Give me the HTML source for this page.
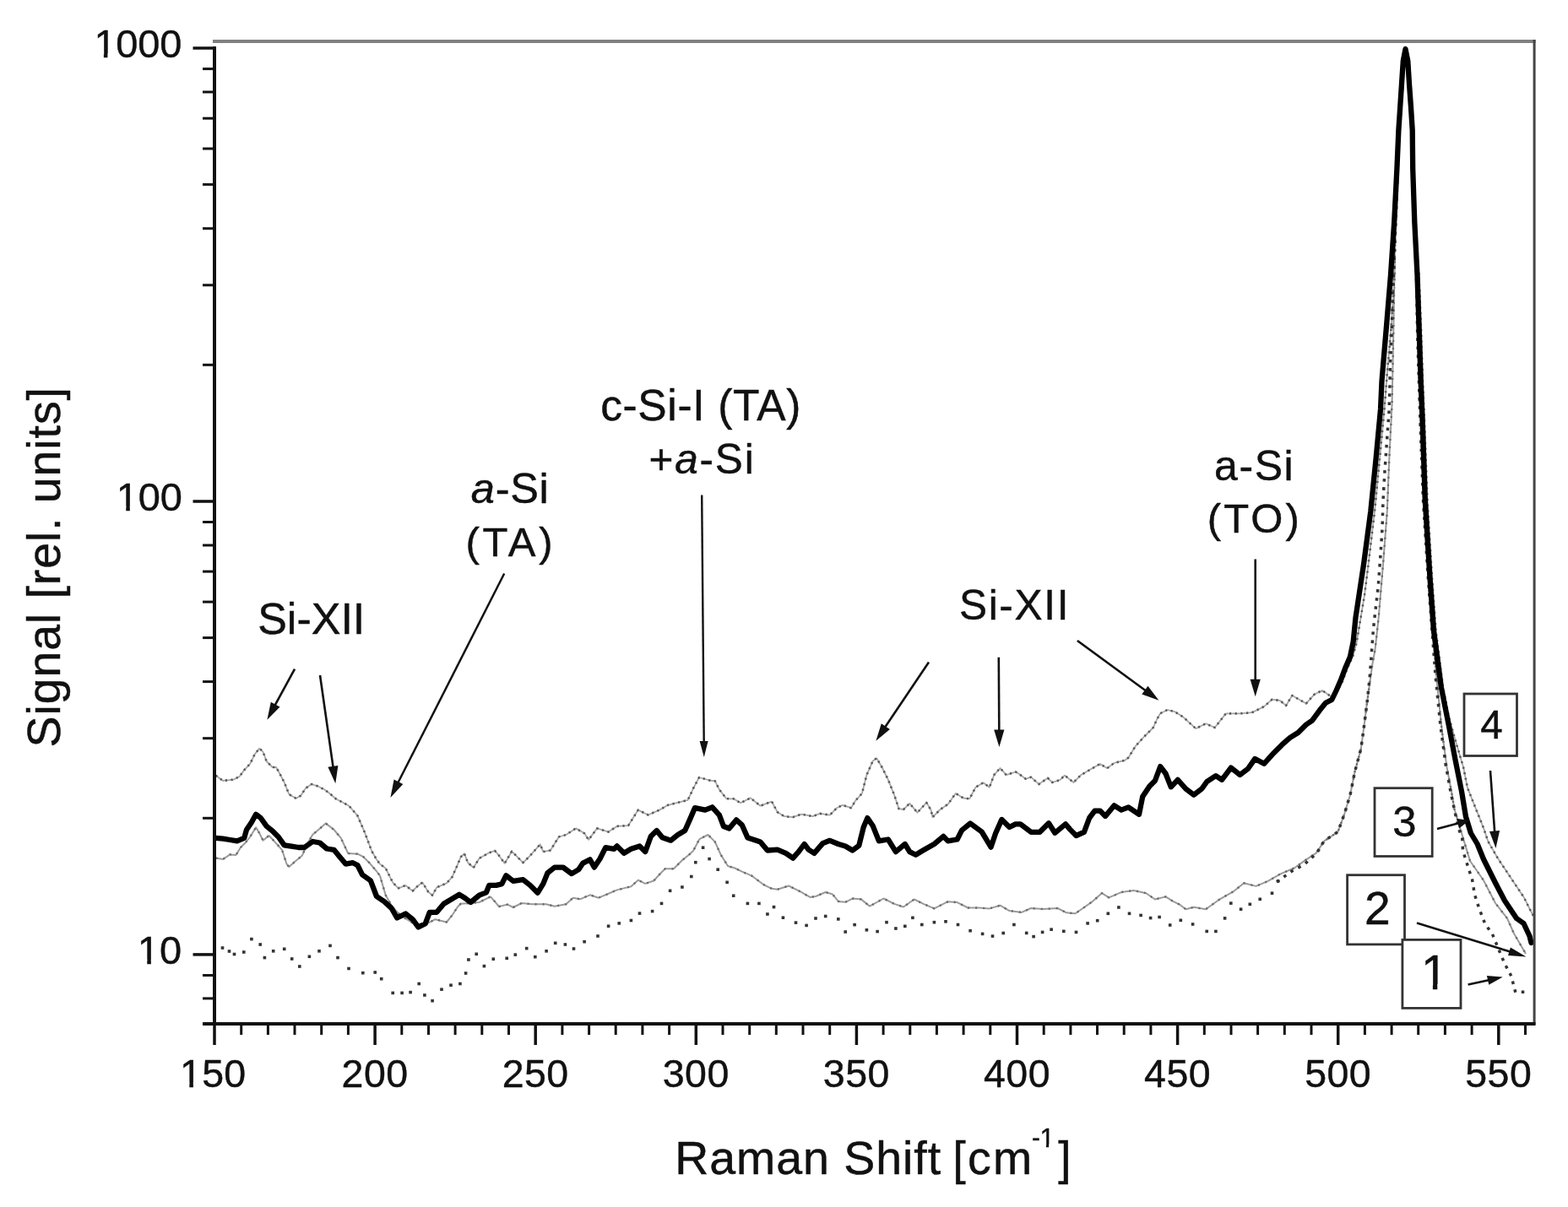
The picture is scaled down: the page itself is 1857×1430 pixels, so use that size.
<!DOCTYPE html><html><head><meta charset="utf-8"><title>Raman spectra</title><style>html,body{margin:0;padding:0;background:#fff;}svg{display:block;}text{font-family:"Liberation Sans",Arial,sans-serif;fill:#111;stroke:#111;stroke-width:0.45px;}</style></head><body>
<svg width="1857" height="1430" viewBox="0 0 1857 1430">
<rect width="100%" height="100%" fill="#fff"/>
<polyline points="255.6,1016.6 264.0,1018.0 272.4,1012.4 279.4,1013.0 285.0,1004.0 290.6,998.5 296.2,991.5 303.1,980.3 307.3,987.3 311.5,995.7 318.5,990.0 322.7,994.3 334.0,1006.8 339.5,1023.6 342.3,1027.0 349.3,1020.8 357.7,1013.8 364.7,998.5 370.3,988.7 378.7,981.7 385.7,975.4 395.5,983.0 403.8,992.9 412.2,1011.0 423.4,1011.7 430.4,1015.2 437.4,1022.2 445.8,1032.0 450.0,1037.6 456.8,1060.7 465.0,1075.0 475.0,1085.0 488.0,1093.0 500.0,1098.0 508.0,1093.0 515.5,1089.2 528.9,1092.5 535.6,1084.2 542.3,1074.0 545.7,1070.7 556.0,1070.0 567.5,1069.0 581.0,1062.3 591.0,1074.0 601.0,1071.6 607.8,1075.0 617.9,1070.0 630.0,1071.2 646.8,1071.2 656.8,1073.7 670.3,1071.2 678.7,1063.7 687.0,1065.3 698.8,1060.3 708.9,1063.7 718.9,1059.5 730.7,1054.4 740.7,1051.9 747.4,1050.2 755.8,1042.7 764.2,1046.9 774.3,1043.5 781.0,1036.0 787.7,1029.3 797.8,1029.3 807.9,1019.2 816.2,1012.5 821.0,1008.0 828.4,994.1 838.5,989.0 846.8,997.4 853.6,1012.5 862.0,1026.0 870.3,1028.5 878.7,1032.7 890.5,1037.7 903.9,1047.8 914.0,1052.8 920.7,1053.7 934.1,1049.5 947.5,1056.2 959.3,1062.9 966.0,1062.0 977.7,1057.0 986.1,1059.5 992.8,1067.9 1001.2,1068.8 1009.6,1064.6 1019.7,1065.4 1030.0,1073.6 1046.4,1064.5 1059.1,1070.9 1070.0,1074.5 1082.7,1065.5 1093.6,1070.9 1106.4,1076.4 1122.7,1068.2 1133.6,1069.1 1146.4,1075.5 1159.1,1075.5 1171.8,1076.4 1184.5,1072.7 1195.5,1079.1 1210.0,1080.9 1221.0,1076.0 1235.7,1077.1 1252.5,1076.0 1263.0,1081.3 1273.5,1082.3 1284.0,1075.0 1294.4,1067.6 1304.9,1058.2 1313.3,1063.4 1328.0,1057.1 1342.7,1055.0 1357.4,1058.2 1367.9,1065.5 1380.5,1062.4 1388.9,1067.6 1397.3,1071.8 1404.3,1077.2 1413.8,1074.8 1428.0,1077.2 1444.7,1065.3 1461.3,1055.8 1473.2,1046.3 1487.5,1049.9 1501.7,1043.9 1516.0,1035.6 1532.7,1028.5 1544.5,1020.1 1558.8,1010.6 1568.3,996.4 1584.5,985.5 1592.0,965.0 1599.0,941.8 1604.5,914.5 1611.8,887.3 1615.5,860.0 1619.0,832.7 1622.7,805.5 1625.5,786.0 1628.5,770.0 1632.7,731.6 1638.0,668.7 1642.8,605.8 1645.3,543.0 1648.5,480.0 1650.0,410.0 1651.0,350.0 1651.8,300.0 1653.5,250.0 1655.2,200.0 1657.2,154.0 1659.0,127.0 1660.8,99.5 1662.4,72.0 1664.5,62.0 1666.7,72.0 1668.2,99.5 1670.2,127.0 1671.9,154.0 1672.6,200.0 1674.5,263.0 1677.0,300.0 1679.0,400.0 1682.5,500.0 1686.0,593.0 1691.5,680.0 1701.0,800.0 1707.6,865.0 1713.5,909.0 1719.0,938.0 1722.3,958.0 1731.0,987.0 1741.0,1020.0 1757.0,1043.0 1771.0,1070.0 1785.0,1088.0 1793.0,1106.0 1807.0,1130.0" fill="none" stroke="#9a9a9a" stroke-width="2" stroke-linejoin="round"/>
<polyline points="255.6,1016.6 264.0,1018.0 272.4,1012.4 279.4,1013.0 285.0,1004.0 290.6,998.5 296.2,991.5 303.1,980.3 307.3,987.3 311.5,995.7 318.5,990.0 322.7,994.3 334.0,1006.8 339.5,1023.6 342.3,1027.0 349.3,1020.8 357.7,1013.8 364.7,998.5 370.3,988.7 378.7,981.7 385.7,975.4 395.5,983.0 403.8,992.9 412.2,1011.0 423.4,1011.7 430.4,1015.2 437.4,1022.2 445.8,1032.0 450.0,1037.6 456.8,1060.7 465.0,1075.0 475.0,1085.0 488.0,1093.0 500.0,1098.0 508.0,1093.0 515.5,1089.2 528.9,1092.5 535.6,1084.2 542.3,1074.0 545.7,1070.7 556.0,1070.0 567.5,1069.0 581.0,1062.3 591.0,1074.0 601.0,1071.6 607.8,1075.0 617.9,1070.0 630.0,1071.2 646.8,1071.2 656.8,1073.7 670.3,1071.2 678.7,1063.7 687.0,1065.3 698.8,1060.3 708.9,1063.7 718.9,1059.5 730.7,1054.4 740.7,1051.9 747.4,1050.2 755.8,1042.7 764.2,1046.9 774.3,1043.5 781.0,1036.0 787.7,1029.3 797.8,1029.3 807.9,1019.2 816.2,1012.5 821.0,1008.0 828.4,994.1 838.5,989.0 846.8,997.4 853.6,1012.5 862.0,1026.0 870.3,1028.5 878.7,1032.7 890.5,1037.7 903.9,1047.8 914.0,1052.8 920.7,1053.7 934.1,1049.5 947.5,1056.2 959.3,1062.9 966.0,1062.0 977.7,1057.0 986.1,1059.5 992.8,1067.9 1001.2,1068.8 1009.6,1064.6 1019.7,1065.4 1030.0,1073.6 1046.4,1064.5 1059.1,1070.9 1070.0,1074.5 1082.7,1065.5 1093.6,1070.9 1106.4,1076.4 1122.7,1068.2 1133.6,1069.1 1146.4,1075.5 1159.1,1075.5 1171.8,1076.4 1184.5,1072.7 1195.5,1079.1 1210.0,1080.9 1221.0,1076.0 1235.7,1077.1 1252.5,1076.0 1263.0,1081.3 1273.5,1082.3 1284.0,1075.0 1294.4,1067.6 1304.9,1058.2 1313.3,1063.4 1328.0,1057.1 1342.7,1055.0 1357.4,1058.2 1367.9,1065.5 1380.5,1062.4 1388.9,1067.6 1397.3,1071.8 1404.3,1077.2 1413.8,1074.8 1428.0,1077.2 1444.7,1065.3 1461.3,1055.8 1473.2,1046.3 1487.5,1049.9 1501.7,1043.9 1516.0,1035.6 1532.7,1028.5 1544.5,1020.1 1558.8,1010.6 1568.3,996.4 1584.5,985.5 1592.0,965.0 1599.0,941.8 1604.5,914.5 1611.8,887.3 1615.5,860.0 1619.0,832.7 1622.7,805.5 1625.5,786.0 1628.5,770.0 1632.7,731.6 1638.0,668.7 1642.8,605.8 1645.3,543.0 1648.5,480.0 1650.0,410.0 1651.0,350.0 1651.8,300.0 1653.5,250.0 1655.2,200.0 1657.2,154.0 1659.0,127.0 1660.8,99.5 1662.4,72.0 1664.5,62.0 1666.7,72.0 1668.2,99.5 1670.2,127.0 1671.9,154.0 1672.6,200.0 1674.5,263.0 1677.0,300.0 1679.0,400.0 1682.5,500.0 1686.0,593.0 1691.5,680.0 1701.0,800.0 1707.6,865.0 1713.5,909.0 1719.0,938.0 1722.3,958.0 1731.0,987.0 1741.0,1020.0 1757.0,1043.0 1771.0,1070.0 1785.0,1088.0 1793.0,1106.0 1807.0,1130.0" fill="none" stroke="#6a6a6a" stroke-width="2.4" stroke-dasharray="2 7" stroke-linejoin="round"/>
<polyline points="255.6,918.7 264.0,925.0 269.6,924.3 276.6,923.6 283.6,920.0 289.2,912.4 296.2,904.8 301.7,893.6 307.3,886.6 311.5,890.8 315.7,902.0 322.7,909.0 327.0,909.0 331.0,916.0 336.7,927.0 342.3,941.0 350.7,946.0 356.3,942.5 361.9,934.0 368.9,929.0 375.9,931.3 384.3,935.5 389.9,939.7 398.3,946.7 406.6,951.0 413.6,955.0 423.4,966.3 431.8,985.9 436.0,997.0 440.2,1008.3 445.8,1018.0 450.0,1023.6 456.8,1028.8 465.2,1045.6 471.9,1052.3 480.3,1049.0 488.7,1055.6 495.4,1049.0 500.4,1045.6 507.1,1056.5 512.1,1060.7 517.2,1051.4 528.9,1046.4 535.6,1038.9 541.5,1025.4 545.7,1015.4 549.9,1011.2 554.1,1022.0 560.8,1028.0 567.5,1017.0 579.3,1010.3 586.0,1007.8 591.0,1013.7 597.7,1022.9 606.1,1008.7 619.5,1022.0 627.9,1013.7 639.7,1000.3 643.4,1009.1 651.8,1007.4 661.9,991.5 670.3,989.0 682.0,981.4 692.1,987.3 697.1,994.9 707.2,981.4 720.6,985.6 730.7,978.9 744.1,978.1 755.8,959.6 767.6,965.5 781.0,959.6 791.1,953.8 804.5,950.4 814.6,947.9 821.3,933.6 828.0,921.0 840.1,924.5 846.8,925.3 851.9,935.4 860.3,946.3 868.7,946.3 877.0,951.3 888.8,945.4 900.5,954.7 914.0,949.6 920.7,962.2 929.0,967.2 939.1,968.1 949.2,964.7 962.6,967.2 971.0,963.9 982.8,965.6 991.1,957.2 997.9,953.8 1007.9,957.2 1013.0,948.8 1020.9,940.0 1026.4,918.2 1033.6,901.8 1038.2,898.2 1044.5,909.0 1051.8,923.6 1059.1,941.8 1064.5,958.2 1070.0,959.0 1077.3,951.8 1086.4,962.7 1097.3,950.9 1102.7,960.0 1104.5,968.2 1113.6,959.0 1122.7,952.7 1131.8,940.0 1140.9,945.5 1148.2,946.4 1155.5,932.7 1164.5,927.3 1171.8,932.7 1177.3,918.2 1184.5,910.0 1191.8,918.2 1202.7,914.5 1206.3,916.5 1214.7,922.8 1221.0,920.7 1230.4,929.1 1240.9,921.8 1246.2,927.0 1255.6,923.9 1260.9,918.6 1271.4,927.0 1279.7,918.6 1290.2,912.3 1302.8,905.0 1311.2,910.2 1319.6,903.9 1332.2,900.8 1336.4,897.6 1344.8,884.0 1355.3,872.5 1365.8,862.0 1370.0,852.5 1374.2,845.2 1382.6,841.0 1391.0,843.1 1399.4,848.3 1401.9,850.1 1416.2,863.2 1428.0,857.3 1438.7,862.0 1451.8,845.4 1468.5,845.4 1482.7,844.2 1497.0,837.1 1506.5,828.7 1516.0,830.0 1523.1,835.9 1530.3,824.0 1546.9,833.5 1556.4,822.8 1565.9,818.0 1571.8,822.0 1577.3,826.0 1584.0,818.0 1590.0,807.0 1596.0,791.0 1602.0,778.0 1606.5,762.0 1611.0,735.0 1616.0,705.0 1620.5,669.0 1628.0,606.0 1634.0,543.0 1639.5,485.0 1643.0,440.0 1647.5,389.0 1651.5,326.0 1652.5,263.0 1655.2,200.0 1657.2,154.0 1659.0,127.0 1660.8,99.5 1662.4,72.0 1664.5,60.0 1666.7,72.0 1668.2,99.5 1670.2,127.0 1671.9,154.0 1672.6,200.0 1675.0,263.0 1680.5,326.0 1683.0,389.0 1685.0,452.0 1687.0,500.0 1690.5,593.0 1696.0,685.0 1700.5,747.0 1709.0,814.0 1716.0,850.0 1724.3,879.6 1733.1,909.0 1738.0,933.4 1743.8,948.0 1751.7,967.7 1757.5,982.4 1762.4,997.0 1773.7,1016.6 1793.3,1046.0 1804.5,1062.7 1813.0,1079.5 1816.0,1085.0" fill="none" stroke="#a5a5a5" stroke-width="1.8" stroke-linejoin="round"/>
<polyline points="255.6,918.7 264.0,925.0 269.6,924.3 276.6,923.6 283.6,920.0 289.2,912.4 296.2,904.8 301.7,893.6 307.3,886.6 311.5,890.8 315.7,902.0 322.7,909.0 327.0,909.0 331.0,916.0 336.7,927.0 342.3,941.0 350.7,946.0 356.3,942.5 361.9,934.0 368.9,929.0 375.9,931.3 384.3,935.5 389.9,939.7 398.3,946.7 406.6,951.0 413.6,955.0 423.4,966.3 431.8,985.9 436.0,997.0 440.2,1008.3 445.8,1018.0 450.0,1023.6 456.8,1028.8 465.2,1045.6 471.9,1052.3 480.3,1049.0 488.7,1055.6 495.4,1049.0 500.4,1045.6 507.1,1056.5 512.1,1060.7 517.2,1051.4 528.9,1046.4 535.6,1038.9 541.5,1025.4 545.7,1015.4 549.9,1011.2 554.1,1022.0 560.8,1028.0 567.5,1017.0 579.3,1010.3 586.0,1007.8 591.0,1013.7 597.7,1022.9 606.1,1008.7 619.5,1022.0 627.9,1013.7 639.7,1000.3 643.4,1009.1 651.8,1007.4 661.9,991.5 670.3,989.0 682.0,981.4 692.1,987.3 697.1,994.9 707.2,981.4 720.6,985.6 730.7,978.9 744.1,978.1 755.8,959.6 767.6,965.5 781.0,959.6 791.1,953.8 804.5,950.4 814.6,947.9 821.3,933.6 828.0,921.0 840.1,924.5 846.8,925.3 851.9,935.4 860.3,946.3 868.7,946.3 877.0,951.3 888.8,945.4 900.5,954.7 914.0,949.6 920.7,962.2 929.0,967.2 939.1,968.1 949.2,964.7 962.6,967.2 971.0,963.9 982.8,965.6 991.1,957.2 997.9,953.8 1007.9,957.2 1013.0,948.8 1020.9,940.0 1026.4,918.2 1033.6,901.8 1038.2,898.2 1044.5,909.0 1051.8,923.6 1059.1,941.8 1064.5,958.2 1070.0,959.0 1077.3,951.8 1086.4,962.7 1097.3,950.9 1102.7,960.0 1104.5,968.2 1113.6,959.0 1122.7,952.7 1131.8,940.0 1140.9,945.5 1148.2,946.4 1155.5,932.7 1164.5,927.3 1171.8,932.7 1177.3,918.2 1184.5,910.0 1191.8,918.2 1202.7,914.5 1206.3,916.5 1214.7,922.8 1221.0,920.7 1230.4,929.1 1240.9,921.8 1246.2,927.0 1255.6,923.9 1260.9,918.6 1271.4,927.0 1279.7,918.6 1290.2,912.3 1302.8,905.0 1311.2,910.2 1319.6,903.9 1332.2,900.8 1336.4,897.6 1344.8,884.0 1355.3,872.5 1365.8,862.0 1370.0,852.5 1374.2,845.2 1382.6,841.0 1391.0,843.1 1399.4,848.3 1401.9,850.1 1416.2,863.2 1428.0,857.3 1438.7,862.0 1451.8,845.4 1468.5,845.4 1482.7,844.2 1497.0,837.1 1506.5,828.7 1516.0,830.0 1523.1,835.9 1530.3,824.0 1546.9,833.5 1556.4,822.8 1565.9,818.0 1571.8,822.0 1577.3,826.0 1584.0,818.0 1590.0,807.0 1596.0,791.0 1602.0,778.0 1606.5,762.0 1611.0,735.0 1616.0,705.0 1620.5,669.0 1628.0,606.0 1634.0,543.0 1639.5,485.0 1643.0,440.0 1647.5,389.0 1651.5,326.0 1652.5,263.0 1655.2,200.0 1657.2,154.0 1659.0,127.0 1660.8,99.5 1662.4,72.0 1664.5,60.0 1666.7,72.0 1668.2,99.5 1670.2,127.0 1671.9,154.0 1672.6,200.0 1675.0,263.0 1680.5,326.0 1683.0,389.0 1685.0,452.0 1687.0,500.0 1690.5,593.0 1696.0,685.0 1700.5,747.0 1709.0,814.0 1716.0,850.0 1724.3,879.6 1733.1,909.0 1738.0,933.4 1743.8,948.0 1751.7,967.7 1757.5,982.4 1762.4,997.0 1773.7,1016.6 1793.3,1046.0 1804.5,1062.7 1813.0,1079.5 1816.0,1085.0" fill="none" stroke="#5a5a5a" stroke-width="2.6" stroke-dasharray="2.2 4.5" stroke-linejoin="round"/>
<polyline points="1513.6,1043.9 1530.0,1032.0 1545.0,1024.0 1560.0,1010.0 1568.0,996.4 1584.5,985.5 1592.0,965.0 1599.0,941.8 1604.5,914.5 1611.8,887.3 1615.5,860.0 1619.0,832.7 1622.0,805.0 1624.4,773.5 1626.4,746.0 1628.5,727.0 1632.3,694.0 1634.8,660.0 1637.0,627.0 1638.0,593.0 1640.0,558.0 1643.6,507.0 1645.0,489.0 1646.0,456.0 1646.5,431.0 1648.0,400.0 1649.5,350.0 1651.5,300.0 1653.5,250.0 1655.2,200.0 1657.2,154.0 1659.0,127.0 1660.8,99.5 1662.4,72.0 1664.5,62.0 1666.7,72.0 1668.2,99.5 1670.2,127.0 1671.9,154.0 1672.6,200.0 1674.5,263.0 1677.0,300.0 1678.8,400.0 1682.0,500.0 1685.5,593.0 1691.0,680.0 1700.0,800.0 1706.0,860.0 1712.0,905.0 1718.0,938.0 1722.0,957.0 1727.0,980.0 1731.8,994.0 1732.5,1008.0 1738.0,1025.0 1743.7,1043.0 1746.5,1060.0 1752.0,1077.0 1758.4,1093.5 1768.0,1108.0 1775.0,1125.0 1782.0,1141.7 1789.8,1156.4 1794.7,1175.3 1806.0,1175.3" fill="none" stroke="#333" stroke-width="3.5" stroke-dasharray="0.1 10" stroke-linecap="square"/>
<g fill="#333"><rect x="261.7" y="1121.2" width="3.6" height="3.6"/><rect x="269.7" y="1125.2" width="3.6" height="3.6"/><rect x="275.7" y="1128.7" width="3.6" height="3.6"/><rect x="287.0" y="1126.2" width="3.6" height="3.6"/><rect x="296.1" y="1110.8" width="3.6" height="3.6"/><rect x="306.4" y="1117.2" width="3.6" height="3.6"/><rect x="311.6" y="1132.8" width="3.6" height="3.6"/><rect x="321.9" y="1125.0" width="3.6" height="3.6"/><rect x="334.9" y="1122.5" width="3.6" height="3.6"/><rect x="343.9" y="1134.2" width="3.6" height="3.6"/><rect x="353.0" y="1143.2" width="3.6" height="3.6"/><rect x="364.6" y="1131.5" width="3.6" height="3.6"/><rect x="376.2" y="1125.0" width="3.6" height="3.6"/><rect x="389.2" y="1118.6" width="3.6" height="3.6"/><rect x="398.2" y="1132.8" width="3.6" height="3.6"/><rect x="411.2" y="1145.7" width="3.6" height="3.6"/><rect x="428.0" y="1150.9" width="3.6" height="3.6"/><rect x="442.4" y="1150.2" width="3.6" height="3.6"/><rect x="449.9" y="1157.9" width="3.6" height="3.6"/><rect x="463.4" y="1174.6" width="3.6" height="3.6"/><rect x="474.3" y="1174.6" width="3.6" height="3.6"/><rect x="484.3" y="1173.8" width="3.6" height="3.6"/><rect x="494.4" y="1163.7" width="3.6" height="3.6"/><rect x="501.1" y="1177.2" width="3.6" height="3.6"/><rect x="510.3" y="1183.9" width="3.6" height="3.6"/><rect x="521.2" y="1170.4" width="3.6" height="3.6"/><rect x="532.2" y="1165.4" width="3.6" height="3.6"/><rect x="543.1" y="1163.7" width="3.6" height="3.6"/><rect x="549.8" y="1151.2" width="3.6" height="3.6"/><rect x="553.1" y="1135.2" width="3.6" height="3.6"/><rect x="562.4" y="1128.5" width="3.6" height="3.6"/><rect x="571.6" y="1142.8" width="3.6" height="3.6"/><rect x="582.5" y="1134.4" width="3.6" height="3.6"/><rect x="598.4" y="1133.5" width="3.6" height="3.6"/><rect x="608.5" y="1129.3" width="3.6" height="3.6"/><rect x="621.9" y="1121.8" width="3.6" height="3.6"/><rect x="632.0" y="1131.9" width="3.6" height="3.6"/><rect x="645.3" y="1125.0" width="3.6" height="3.6"/><rect x="655.9" y="1115.5" width="3.6" height="3.6"/><rect x="667.6" y="1117.2" width="3.6" height="3.6"/><rect x="677.7" y="1122.2" width="3.6" height="3.6"/><rect x="690.3" y="1113.9" width="3.6" height="3.6"/><rect x="706.2" y="1107.2" width="3.6" height="3.6"/><rect x="718.8" y="1095.4" width="3.6" height="3.6"/><rect x="731.4" y="1092.1" width="3.6" height="3.6"/><rect x="745.6" y="1088.7" width="3.6" height="3.6"/><rect x="755.7" y="1080.3" width="3.6" height="3.6"/><rect x="770.8" y="1077.8" width="3.6" height="3.6"/><rect x="781.7" y="1068.6" width="3.6" height="3.6"/><rect x="791.8" y="1053.5" width="3.6" height="3.6"/><rect x="806.1" y="1049.2" width="3.6" height="3.6"/><rect x="817.0" y="1036.7" width="3.6" height="3.6"/><rect x="822.0" y="1019.9" width="3.6" height="3.6"/><rect x="830.8" y="1002.4" width="3.6" height="3.6"/><rect x="838.3" y="1015.8" width="3.6" height="3.6"/><rect x="848.4" y="1028.4" width="3.6" height="3.6"/><rect x="859.3" y="1043.5" width="3.6" height="3.6"/><rect x="866.9" y="1059.4" width="3.6" height="3.6"/><rect x="883.6" y="1068.6" width="3.6" height="3.6"/><rect x="897.1" y="1068.6" width="3.6" height="3.6"/><rect x="907.1" y="1081.2" width="3.6" height="3.6"/><rect x="914.7" y="1072.8" width="3.6" height="3.6"/><rect x="925.6" y="1085.4" width="3.6" height="3.6"/><rect x="940.7" y="1091.3" width="3.6" height="3.6"/><rect x="953.3" y="1094.6" width="3.6" height="3.6"/><rect x="964.2" y="1086.2" width="3.6" height="3.6"/><rect x="975.9" y="1083.7" width="3.6" height="3.6"/><rect x="991.0" y="1087.1" width="3.6" height="3.6"/><rect x="999.4" y="1102.2" width="3.6" height="3.6"/><rect x="1010.3" y="1093.8" width="3.6" height="3.6"/><rect x="1024.6" y="1100.0" width="3.6" height="3.6"/><rect x="1037.3" y="1101.8" width="3.6" height="3.6"/><rect x="1048.2" y="1090.9" width="3.6" height="3.6"/><rect x="1059.1" y="1098.2" width="3.6" height="3.6"/><rect x="1070.0" y="1095.5" width="3.6" height="3.6"/><rect x="1079.1" y="1085.5" width="3.6" height="3.6"/><rect x="1090.0" y="1093.7" width="3.6" height="3.6"/><rect x="1104.6" y="1090.9" width="3.6" height="3.6"/><rect x="1118.2" y="1090.0" width="3.6" height="3.6"/><rect x="1132.7" y="1093.7" width="3.6" height="3.6"/><rect x="1147.3" y="1100.9" width="3.6" height="3.6"/><rect x="1161.8" y="1104.6" width="3.6" height="3.6"/><rect x="1173.7" y="1107.3" width="3.6" height="3.6"/><rect x="1186.4" y="1103.7" width="3.6" height="3.6"/><rect x="1199.1" y="1093.7" width="3.6" height="3.6"/><rect x="1213.9" y="1103.6" width="3.6" height="3.6"/><rect x="1222.3" y="1107.8" width="3.6" height="3.6"/><rect x="1232.8" y="1102.6" width="3.6" height="3.6"/><rect x="1243.3" y="1099.4" width="3.6" height="3.6"/><rect x="1258.0" y="1101.5" width="3.6" height="3.6"/><rect x="1272.7" y="1102.6" width="3.6" height="3.6"/><rect x="1286.3" y="1092.1" width="3.6" height="3.6"/><rect x="1297.9" y="1088.9" width="3.6" height="3.6"/><rect x="1310.5" y="1080.5" width="3.6" height="3.6"/><rect x="1323.1" y="1073.2" width="3.6" height="3.6"/><rect x="1335.7" y="1080.5" width="3.6" height="3.6"/><rect x="1349.3" y="1082.6" width="3.6" height="3.6"/><rect x="1360.8" y="1085.8" width="3.6" height="3.6"/><rect x="1371.3" y="1084.7" width="3.6" height="3.6"/><rect x="1383.9" y="1094.2" width="3.6" height="3.6"/><rect x="1396.5" y="1088.5" width="3.6" height="3.6"/><rect x="1410.8" y="1093.2" width="3.6" height="3.6"/><rect x="1427.4" y="1101.6" width="3.6" height="3.6"/><rect x="1438.1" y="1101.6" width="3.6" height="3.6"/><rect x="1448.8" y="1086.1" width="3.6" height="3.6"/><rect x="1456.0" y="1068.3" width="3.6" height="3.6"/><rect x="1467.8" y="1075.4" width="3.6" height="3.6"/><rect x="1478.5" y="1069.5" width="3.6" height="3.6"/><rect x="1490.4" y="1063.5" width="3.6" height="3.6"/><rect x="1504.7" y="1056.4" width="3.6" height="3.6"/><rect x="1511.8" y="1042.1" width="3.6" height="3.6"/></g>
<polyline points="255.6,992.9 264.0,993.6 272.4,995.0 280.8,996.4 289.2,992.9 292.0,983.0 297.6,974.7 303.1,964.9 308.7,969.0 315.7,978.9 322.7,984.5 329.7,991.5 336.7,1001.3 345.1,1002.7 353.5,1004.0 360.5,1004.0 370.3,997.0 378.7,998.5 387.0,1005.5 395.5,1006.8 402.4,1015.2 409.4,1023.6 417.8,1022.2 423.4,1025.0 429.0,1036.2 438.8,1043.2 446.0,1062.0 455.1,1068.2 463.5,1075.8 470.2,1087.5 480.3,1082.5 488.7,1089.2 495.4,1098.4 503.8,1094.2 508.8,1080.8 517.2,1080.8 525.6,1070.7 534.0,1065.7 544.0,1059.8 550.7,1064.0 557.4,1069.0 567.5,1060.7 575.9,1057.3 579.3,1048.9 587.7,1048.9 594.4,1047.2 599.4,1037.2 607.8,1043.9 619.5,1042.2 627.9,1048.9 636.7,1057.8 643.4,1046.9 648.5,1034.3 656.8,1027.6 666.9,1027.6 677.0,1035.1 685.4,1030.1 690.4,1022.6 698.8,1018.4 703.8,1027.6 710.5,1017.5 717.2,1004.1 727.3,1005.8 730.7,1002.4 739.0,1010.8 747.4,1005.8 757.5,1002.4 764.2,1009.1 770.9,990.7 777.7,984.0 784.4,992.3 794.4,995.7 802.8,989.0 811.2,984.0 817.9,968.9 823.0,957.1 835.1,959.7 843.5,956.3 851.9,965.6 856.9,979.0 863.6,981.5 872.0,971.4 878.7,977.3 885.4,992.4 895.5,995.8 900.5,997.4 908.9,1007.5 920.7,1006.7 930.7,1010.9 939.1,1016.7 945.8,1009.2 952.6,1000.0 957.6,1006.7 964.3,1010.9 974.4,999.1 982.8,995.8 992.8,1000.0 1001.2,1002.5 1009.6,1007.5 1017.3,1001.8 1022.7,980.0 1027.3,969.1 1033.6,978.2 1040.9,996.4 1051.8,994.5 1060.9,1009.1 1071.8,1000.0 1077.3,1009.1 1084.5,1012.7 1093.6,1007.3 1106.4,1000.0 1117.3,990.9 1122.7,996.4 1133.6,994.5 1139.1,983.6 1149.1,975.5 1162.7,985.5 1173.6,1003.6 1179.1,987.3 1186.4,970.9 1195.5,980.0 1202.7,976.4 1208.4,976.3 1221.0,985.8 1231.5,985.8 1242.0,975.3 1249.3,986.8 1261.9,976.3 1267.2,982.6 1274.5,990.0 1283.9,985.8 1290.2,969.0 1296.5,960.6 1302.8,960.6 1309.1,966.9 1319.6,954.3 1328.0,959.6 1336.4,956.4 1349.0,964.8 1353.2,943.8 1361.6,931.2 1367.9,925.0 1374.2,908.1 1380.5,916.5 1386.8,932.3 1394.8,923.8 1404.3,934.5 1413.8,941.7 1423.3,934.5 1429.2,926.2 1439.9,919.1 1447.1,923.8 1457.8,909.6 1468.5,917.9 1478.0,910.8 1486.3,898.9 1497.0,904.8 1508.9,891.7 1518.4,882.2 1527.9,873.9 1537.4,868.0 1546.9,858.5 1554.0,853.7 1562.7,841.8 1570.0,832.7 1577.3,829.0 1582.6,818.0 1588.0,805.5 1593.0,792.0 1599.0,778.0 1602.7,760.0 1605.5,731.6 1615.0,668.7 1623.3,605.8 1629.6,543.0 1635.0,485.0 1636.5,451.6 1641.8,388.7 1647.0,325.8 1651.2,262.9 1654.4,200.0 1656.4,154.0 1658.2,127.0 1660.0,99.5 1661.8,72.0 1664.5,58.0 1667.3,72.0 1669.0,99.5 1671.0,127.0 1672.7,154.0 1673.2,200.0 1675.3,263.0 1678.5,326.0 1680.6,389.0 1682.7,452.0 1684.7,500.0 1687.8,593.5 1693.5,685.0 1697.9,747.0 1706.8,814.0 1715.9,860.0 1723.3,899.0 1731.1,938.0 1736.0,967.7 1741.9,987.0 1749.7,1000.0 1757.0,1018.0 1771.0,1046.0 1782.0,1067.0 1796.0,1088.0 1804.5,1094.0 1811.5,1109.0 1813.5,1117.0" fill="none" stroke="#000" stroke-width="6.3" stroke-linejoin="round" stroke-linecap="round"/>
<line x1="252" y1="49" x2="1818.6" y2="49" stroke="#808080" stroke-width="4"/>
<line x1="1817.1" y1="47" x2="1817.1" y2="1214" stroke="#454545" stroke-width="3"/>
<line x1="254" y1="55" x2="254" y2="1215" stroke="#111" stroke-width="4"/>
<line x1="240" y1="1213" x2="1818.5" y2="1213" stroke="#111" stroke-width="4"/>
<line x1="228.5" y1="57.0" x2="254" y2="57.0" stroke="#111" stroke-width="3.5"/><line x1="228.5" y1="594.0" x2="254" y2="594.0" stroke="#111" stroke-width="3.5"/><line x1="228.5" y1="1130.9" x2="254" y2="1130.9" stroke="#111" stroke-width="3.5"/><line x1="240" y1="432.3" x2="254" y2="432.3" stroke="#111" stroke-width="3"/><line x1="240" y1="337.8" x2="254" y2="337.8" stroke="#111" stroke-width="3"/><line x1="240" y1="270.7" x2="254" y2="270.7" stroke="#111" stroke-width="3"/><line x1="240" y1="218.6" x2="254" y2="218.6" stroke="#111" stroke-width="3"/><line x1="240" y1="176.1" x2="254" y2="176.1" stroke="#111" stroke-width="3"/><line x1="240" y1="140.2" x2="254" y2="140.2" stroke="#111" stroke-width="3"/><line x1="240" y1="109.0" x2="254" y2="109.0" stroke="#111" stroke-width="3"/><line x1="240" y1="81.6" x2="254" y2="81.6" stroke="#111" stroke-width="3"/><line x1="240" y1="969.3" x2="254" y2="969.3" stroke="#111" stroke-width="3"/><line x1="240" y1="874.7" x2="254" y2="874.7" stroke="#111" stroke-width="3"/><line x1="240" y1="807.6" x2="254" y2="807.6" stroke="#111" stroke-width="3"/><line x1="240" y1="755.6" x2="254" y2="755.6" stroke="#111" stroke-width="3"/><line x1="240" y1="713.1" x2="254" y2="713.1" stroke="#111" stroke-width="3"/><line x1="240" y1="677.1" x2="254" y2="677.1" stroke="#111" stroke-width="3"/><line x1="240" y1="646.0" x2="254" y2="646.0" stroke="#111" stroke-width="3"/><line x1="240" y1="618.5" x2="254" y2="618.5" stroke="#111" stroke-width="3"/><line x1="240" y1="1182.9" x2="254" y2="1182.9" stroke="#111" stroke-width="3"/><line x1="240" y1="1155.5" x2="254" y2="1155.5" stroke="#111" stroke-width="3"/><line x1="254.0" y1="1213" x2="254.0" y2="1238" stroke="#111" stroke-width="3.5"/><line x1="285.7" y1="1213" x2="285.7" y2="1226" stroke="#111" stroke-width="3"/><line x1="317.4" y1="1213" x2="317.4" y2="1226" stroke="#111" stroke-width="3"/><line x1="349.0" y1="1213" x2="349.0" y2="1226" stroke="#111" stroke-width="3"/><line x1="380.7" y1="1213" x2="380.7" y2="1226" stroke="#111" stroke-width="3"/><line x1="412.4" y1="1213" x2="412.4" y2="1226" stroke="#111" stroke-width="3"/><line x1="444.1" y1="1213" x2="444.1" y2="1238" stroke="#111" stroke-width="3.5"/><line x1="475.8" y1="1213" x2="475.8" y2="1226" stroke="#111" stroke-width="3"/><line x1="507.5" y1="1213" x2="507.5" y2="1226" stroke="#111" stroke-width="3"/><line x1="539.1" y1="1213" x2="539.1" y2="1226" stroke="#111" stroke-width="3"/><line x1="570.8" y1="1213" x2="570.8" y2="1226" stroke="#111" stroke-width="3"/><line x1="602.5" y1="1213" x2="602.5" y2="1226" stroke="#111" stroke-width="3"/><line x1="634.2" y1="1213" x2="634.2" y2="1238" stroke="#111" stroke-width="3.5"/><line x1="665.9" y1="1213" x2="665.9" y2="1226" stroke="#111" stroke-width="3"/><line x1="697.6" y1="1213" x2="697.6" y2="1226" stroke="#111" stroke-width="3"/><line x1="729.2" y1="1213" x2="729.2" y2="1226" stroke="#111" stroke-width="3"/><line x1="760.9" y1="1213" x2="760.9" y2="1226" stroke="#111" stroke-width="3"/><line x1="792.6" y1="1213" x2="792.6" y2="1226" stroke="#111" stroke-width="3"/><line x1="824.3" y1="1213" x2="824.3" y2="1238" stroke="#111" stroke-width="3.5"/><line x1="856.0" y1="1213" x2="856.0" y2="1226" stroke="#111" stroke-width="3"/><line x1="887.7" y1="1213" x2="887.7" y2="1226" stroke="#111" stroke-width="3"/><line x1="919.3" y1="1213" x2="919.3" y2="1226" stroke="#111" stroke-width="3"/><line x1="951.0" y1="1213" x2="951.0" y2="1226" stroke="#111" stroke-width="3"/><line x1="982.7" y1="1213" x2="982.7" y2="1226" stroke="#111" stroke-width="3"/><line x1="1014.4" y1="1213" x2="1014.4" y2="1238" stroke="#111" stroke-width="3.5"/><line x1="1046.1" y1="1213" x2="1046.1" y2="1226" stroke="#111" stroke-width="3"/><line x1="1077.8" y1="1213" x2="1077.8" y2="1226" stroke="#111" stroke-width="3"/><line x1="1109.4" y1="1213" x2="1109.4" y2="1226" stroke="#111" stroke-width="3"/><line x1="1141.1" y1="1213" x2="1141.1" y2="1226" stroke="#111" stroke-width="3"/><line x1="1172.8" y1="1213" x2="1172.8" y2="1226" stroke="#111" stroke-width="3"/><line x1="1204.5" y1="1213" x2="1204.5" y2="1238" stroke="#111" stroke-width="3.5"/><line x1="1236.2" y1="1213" x2="1236.2" y2="1226" stroke="#111" stroke-width="3"/><line x1="1267.9" y1="1213" x2="1267.9" y2="1226" stroke="#111" stroke-width="3"/><line x1="1299.5" y1="1213" x2="1299.5" y2="1226" stroke="#111" stroke-width="3"/><line x1="1331.2" y1="1213" x2="1331.2" y2="1226" stroke="#111" stroke-width="3"/><line x1="1362.9" y1="1213" x2="1362.9" y2="1226" stroke="#111" stroke-width="3"/><line x1="1394.6" y1="1213" x2="1394.6" y2="1238" stroke="#111" stroke-width="3.5"/><line x1="1426.3" y1="1213" x2="1426.3" y2="1226" stroke="#111" stroke-width="3"/><line x1="1458.0" y1="1213" x2="1458.0" y2="1226" stroke="#111" stroke-width="3"/><line x1="1489.6" y1="1213" x2="1489.6" y2="1226" stroke="#111" stroke-width="3"/><line x1="1521.3" y1="1213" x2="1521.3" y2="1226" stroke="#111" stroke-width="3"/><line x1="1553.0" y1="1213" x2="1553.0" y2="1226" stroke="#111" stroke-width="3"/><line x1="1584.7" y1="1213" x2="1584.7" y2="1238" stroke="#111" stroke-width="3.5"/><line x1="1616.4" y1="1213" x2="1616.4" y2="1226" stroke="#111" stroke-width="3"/><line x1="1648.1" y1="1213" x2="1648.1" y2="1226" stroke="#111" stroke-width="3"/><line x1="1679.7" y1="1213" x2="1679.7" y2="1226" stroke="#111" stroke-width="3"/><line x1="1711.4" y1="1213" x2="1711.4" y2="1226" stroke="#111" stroke-width="3"/><line x1="1743.1" y1="1213" x2="1743.1" y2="1226" stroke="#111" stroke-width="3"/><line x1="1774.8" y1="1213" x2="1774.8" y2="1238" stroke="#111" stroke-width="3.5"/><line x1="1806.5" y1="1213" x2="1806.5" y2="1226" stroke="#111" stroke-width="3"/>
<text x="111.4" y="68.3" font-size="47.0" letter-spacing="-0.19">1000</text><rect x="113.75" y="63.46" width="9.10" height="6.34" fill="#fff"/><rect x="127.45" y="63.46" width="9.40" height="6.34" fill="#fff"/>
<text x="137.8" y="604.5" font-size="47.0" letter-spacing="-0.2">100</text><rect x="140.15" y="599.66" width="9.10" height="6.34" fill="#fff"/><rect x="153.85" y="599.66" width="9.40" height="6.34" fill="#fff"/>
<text x="162.8" y="1141.5" font-size="47.0">10</text><rect x="165.15" y="1136.66" width="9.10" height="6.34" fill="#fff"/><rect x="178.85" y="1136.66" width="9.40" height="6.34" fill="#fff"/>
<text x="213.0" y="1287.5" font-size="46.5" letter-spacing="0.3">150</text><rect x="215.32" y="1282.71" width="9.00" height="6.29" fill="#fff"/><rect x="228.88" y="1282.71" width="9.30" height="6.29" fill="#fff"/>
<text x="799.2" y="1391.3" font-size="55.5" letter-spacing="0.96">Raman Shift</text>
<text x="1128.2" y="1391.3" font-size="55.5" letter-spacing="2.3">[cm</text>
<text x="1222.0" y="1358.0" font-size="29.5">-</text>
<text x="1231.4" y="1359.2" font-size="31.13">1</text><rect x="1232.96" y="1355.76" width="5.93" height="4.94" fill="#fff"/><rect x="1242.13" y="1355.76" width="6.23" height="4.94" fill="#fff"/>
<text x="1253.2" y="1391.3" font-size="55.5">]</text>
<text x="305.2" y="750.9" font-size="52.0">Si-XII</text>
<text x="557.8" y="596.4" font-size="50.5" letter-spacing="0.74"><tspan font-style="italic">a</tspan>-Si</text>
<text x="551.4" y="658.6" font-size="49.0" letter-spacing="3.88">(TA)</text>
<text x="711.2" y="498.0" font-size="51.5" letter-spacing="0.64">c-Si-I (TA)</text>
<text x="768.5" y="560.5" font-size="49.5" letter-spacing="1.8">+<tspan font-style="italic">a</tspan>-Si</text>
<text x="1136.0" y="733.7" font-size="49.5" letter-spacing="1.68">Si-XII</text>
<text x="1438.0" y="568.6" font-size="50.0" letter-spacing="1.6">a-Si</text>
<text x="1429.8" y="630.9" font-size="49.0" letter-spacing="3.07">(TO)</text>
<text x="444.1" y="1287.5" font-size="46.5" letter-spacing="0.5" text-anchor="middle">200</text>
<text x="634.2" y="1287.5" font-size="46.5" letter-spacing="0.5" text-anchor="middle">250</text>
<text x="824.3" y="1287.5" font-size="46.5" letter-spacing="0.5" text-anchor="middle">300</text>
<text x="1014.4" y="1287.5" font-size="46.5" letter-spacing="0.5" text-anchor="middle">350</text>
<text x="1204.5" y="1287.5" font-size="46.5" letter-spacing="0.5" text-anchor="middle">400</text>
<text x="1394.6" y="1287.5" font-size="46.5" letter-spacing="0.5" text-anchor="middle">450</text>
<text x="1584.7" y="1287.5" font-size="46.5" letter-spacing="0.5" text-anchor="middle">500</text>
<text x="1774.8" y="1287.5" font-size="46.5" letter-spacing="0.5" text-anchor="middle">550</text>
<text transform="translate(70.5,885.5) rotate(-90)" font-size="55.5" letter-spacing="0.9">Signal [rel. units]</text>
<line x1="349.0" y1="792.7" x2="325.2" y2="836.4" stroke="#111" stroke-width="2.6"/><polygon points="316.4,852.7 320.8,831.8 331.5,837.6" fill="#111"/>
<line x1="379.0" y1="800.0" x2="394.7" y2="909.9" stroke="#111" stroke-width="2.6"/><polygon points="397.3,928.2 388.4,908.8 400.4,907.0" fill="#111"/>
<line x1="597.2" y1="679.5" x2="471.0" y2="928.0" stroke="#111" stroke-width="2.5"/><polygon points="462.4,944.9 466.6,923.5 477.3,928.9" fill="#111"/>
<line x1="831.2" y1="586.4" x2="833.7" y2="880.0" stroke="#111" stroke-width="2.4"/><polygon points="833.8,897.0 828.6,878.0 838.6,878.0" fill="#111"/>
<line x1="1100.0" y1="784.6" x2="1047.7" y2="862.3" stroke="#111" stroke-width="2.6"/><polygon points="1037.4,877.7 1043.8,857.3 1053.9,864.1" fill="#111"/>
<line x1="1182.8" y1="778.8" x2="1183.3" y2="866.5" stroke="#111" stroke-width="2.6"/><polygon points="1183.4,885.0 1177.2,864.5 1189.4,864.5" fill="#111"/>
<line x1="1275.9" y1="759.0" x2="1357.5" y2="818.8" stroke="#111" stroke-width="2.6"/><polygon points="1372.4,829.7 1352.3,822.5 1359.5,812.7" fill="#111"/>
<line x1="1486.7" y1="662.5" x2="1486.7" y2="806.8" stroke="#111" stroke-width="2.6"/><polygon points="1486.7,825.3 1480.6,804.8 1492.8,804.8" fill="#111"/>
<line x1="1765.0" y1="913.0" x2="1770.2" y2="986.5" stroke="#111" stroke-width="2.6"/><polygon points="1771.5,1005.0 1764.0,985.0 1776.1,984.1" fill="#111"/>
<line x1="1702.0" y1="982.0" x2="1728.4" y2="975.1" stroke="#111" stroke-width="2.6"/><polygon points="1740.0,972.0 1728.0,981.5 1724.9,969.7" fill="#111"/>
<line x1="1678.0" y1="1093.6" x2="1789.3" y2="1127.8" stroke="#111" stroke-width="2.6"/><polygon points="1807.5,1133.4 1786.0,1132.0 1788.9,1122.5" fill="#111"/>
<line x1="1738.6" y1="1166.6" x2="1764.1" y2="1161.0" stroke="#111" stroke-width="2.6"/><polygon points="1779.7,1157.5 1763.3,1166.8 1760.9,1156.0" fill="#111"/>
<rect x="1734" y="822" width="62.5" height="73.5" fill="#fff" stroke="#333" stroke-width="2.8"/><text x="1753.2" y="874.5" font-size="47.68">4</text>
<rect x="1628" y="933.7" width="68.2" height="80.8" fill="#fff" stroke="#333" stroke-width="2.8"/><text x="1649.2" y="991.0" font-size="50.73">3</text>
<rect x="1595.6" y="1036.7" width="67.9" height="82.2" fill="#fff" stroke="#333" stroke-width="2.8"/><text x="1616.0" y="1095.0" font-size="55.11">2</text>
<rect x="1660.9" y="1113.4" width="69.1" height="81.0" fill="#fff" stroke="#333" stroke-width="2.8"/><text x="1683.0" y="1171.5" font-size="56.69">1</text><rect x="1685.83" y="1165.81" width="11.04" height="7.19" fill="#fff"/><rect x="1702.29" y="1165.81" width="11.34" height="7.19" fill="#fff"/>
</svg></body></html>
